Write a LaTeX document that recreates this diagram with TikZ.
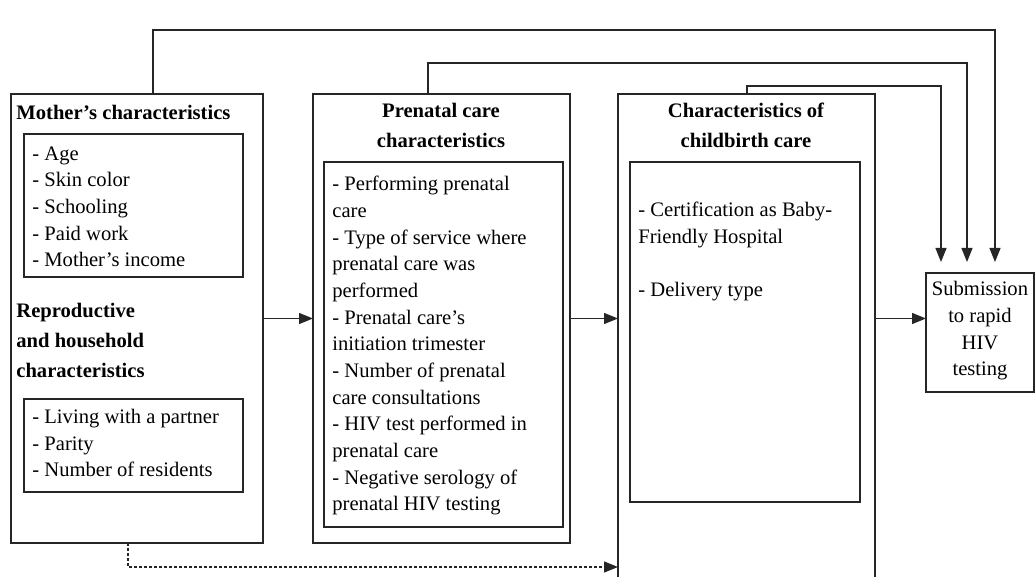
\documentclass[tikz,border=0pt]{standalone}
\usepackage{fontspec}
\setmainfont{Liberation Serif}
\usetikzlibrary{arrows.meta,positioning}

\begin{document}
\begin{tikzpicture}[
  x=0.5pt, y=-0.5pt,
  font=\fontsize{10.3}{13.35}\selectfont,
  frame/.style={draw=black!85, line width=0.6pt, inner sep=0pt,
                outer sep=0pt, anchor=north west},
  head/.style={font=\fontsize{10.3}{15}\selectfont\bfseries, inner sep=0pt},
  items/.style={align=left, inner sep=0pt, anchor=base west},
  arr/.style={-{Triangle[length=7pt,width=5.5pt]}, draw=black!85, line width=0.6pt}
]
\useasboundingbox (0,0) rectangle (1035,577);
\clip (0,0) rectangle (1035,577);
% outer blocks
\node[frame, minimum width=126pt, minimum height=224.5pt] (mother) at (11,94) {};
\node[frame, minimum width=128.5pt, minimum height=224.5pt] (prenatal) at (313,94) {};
\node[frame, minimum width=128.5pt, minimum height=300pt] (child) at (618,94) {};
\node[frame, minimum width=54pt, minimum height=59.5pt] (sub) at (926,273) {};
% inner blocks
\node[frame, minimum width=109.5pt, minimum height=71.5pt] (mlist) at (24,134) {};
\node[frame, minimum width=109.5pt, minimum height=46.5pt] (rlist) at (24,399) {};
\node[frame, minimum width=119.5pt, minimum height=182.5pt] (plist) at (324,162) {};
\node[frame, minimum width=115pt, minimum height=170pt] (clist) at (630,162) {};
% headings (base = last line)
\node[head, anchor=base west] (mhead) at (16,120) {Mother’s characteristics};
\node[head, anchor=base west, align=left] (rhead) at (16,378)
      {Reproductive\\and household\\characteristics};
\node[head, anchor=base, align=center] (phead) at (441,148)
      {Prenatal care\\characteristics};
\node[head, anchor=base, align=center] (chead) at (746,148)
      {Characteristics of\\childbirth care};
% item lists
\node[items] (mtext) at (32,267)
      {- Age\\- Skin color\\- Schooling\\- Paid work\\- Mother’s income};
\node[items] (rtext) at (32,477)
      {- Living with a partner\\- Parity\\- Number of residents};
\node[items] (ptext) at (332,511)
      {- Performing prenatal\\care\\- Type of service where\\prenatal care was\\performed\\- Prenatal care’s\\initiation trimester\\- Number of prenatal\\care consultations\\- HIV test performed in\\prenatal care\\- Negative serology of\\prenatal HIV testing};
\node[items] (ctext) at (638,297)
      {- Certification as Baby-\\Friendly Hospital\\[13.35pt]- Delivery type};
\node[inner sep=0pt, anchor=base, align=center] (stext) at (980,376)
      {Submission\\to rapid\\HIV\\testing};
% connectors
\coordinate (mtop) at (153,94);
\coordinate (ptop) at (428,94);
\coordinate (ctop) at (747,94);
\draw[arr, shorten >=5.5pt] (mtop) -- ++(0,-64) -| ([xshift=7.5pt]sub.north);
\draw[arr, shorten >=5.5pt] (ptop) -- ++(0,-31) -| ([xshift=-6.5pt]sub.north);
\draw[arr, shorten >=5.5pt] (ctop) -- ++(0,-8) -| ([xshift=-19.5pt]sub.north);
\draw[arr] (mother.east) -- (mother.east -| prenatal.west);
\draw[arr] (prenatal.east) -- (prenatal.east -| child.west);
\draw[arr] (prenatal.east -| child.east) -- (prenatal.east -| sub.west);
\coordinate (dstart) at (128,543);
\coordinate (dturn) at (128,567);
\draw[arr, dash pattern=on 1.5pt off 1pt] (dstart) -- (dturn) -- (dturn -| child.west);
\end{tikzpicture}
\end{document}
